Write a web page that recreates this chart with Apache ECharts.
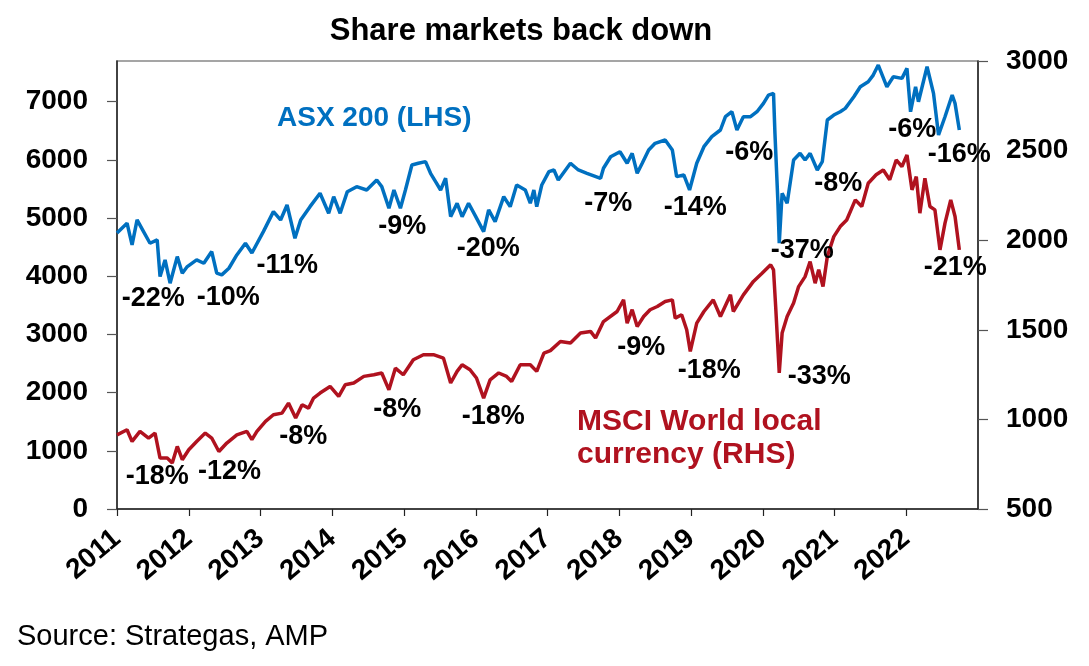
<!DOCTYPE html>
<html><head><meta charset="utf-8">
<script src="https://cdn.jsdelivr.net/npm/echarts@6/dist/echarts.min.js"></script>
<style>html,body{margin:0;padding:0;background:#fff}#c{width:1089px;height:666px}</style>
</head><body><div id="c"></div>
<script>
// ---- Data (decimal years, index levels) ----
const asxTime = [2011.00,2011.14,2011.21,2011.28,2011.37,2011.46,2011.56,2011.60,2011.67,2011.74,2011.84,2011.91,2011.98,
2012.11,2012.21,2012.32,2012.39,2012.46,2012.56,2012.67,2012.79,2012.88,
2013.04,2013.18,2013.28,2013.37,2013.48,2013.56,2013.69,2013.83,2013.95,
2014.02,2014.11,2014.21,2014.34,2014.48,2014.62,2014.69,2014.79,2014.86,2014.95,
2015.02,2015.11,2015.20,2015.30,2015.37,2015.44,2015.51,2015.58,2015.65,2015.74,2015.81,2015.90,
2016.00,2016.11,2016.18,2016.27,2016.39,2016.48,2016.57,2016.69,2016.76,2016.81,2016.85,2016.92,
2017.02,2017.09,2017.15,2017.32,2017.43,2017.55,2017.74,2017.78,2017.88,
2018.01,2018.11,2018.18,2018.25,2018.32,2018.41,2018.50,2018.64,2018.74,2018.80,2018.90,2018.98,
2019.08,2019.18,2019.29,2019.41,2019.48,2019.57,2019.64,2019.73,2019.83,2019.92,
2020.01,2020.08,2020.15,2020.17,2020.21,2020.23,2020.27,2020.34,2020.43,2020.52,2020.59,2020.66,2020.76,2020.83,2020.90,2020.99,
2021.08,2021.15,2021.27,2021.36,2021.47,2021.54,2021.61,2021.73,2021.82,2021.94,
2022.01,2022.06,2022.13,2022.17,2022.29,2022.38,2022.45,2022.54,2022.64,2022.68,2022.74];
const asxValues = [4745,4912,4539,4968,4768,4568,4625,3995,4281,3881,4338,4053,4167,
4281,4224,4424,4053,4024,4138,4367,4568,4400,
4768,5111,4968,5226,4654,4968,5197,5426,5083,
5368,5083,5454,5540,5483,5655,5540,5169,5483,5169,
5483,5913,5942,5970,5770,5626,5483,5684,5025,5255,5025,5255,
5025,4768,5140,4940,5368,5197,5569,5483,5255,5483,5197,5569,
5798,5827,5655,5942,5827,5770,5684,5856,6055,
6141,5942,6113,5770,5942,6170,6285,6342,6170,5712,5741,5483,
5942,6227,6399,6514,6742,6828,6514,6742,6742,6828,
6972,7115,7144,6457,5312,4568,5427,5255,5999,6113,5999,6113,5827,5970,6686,6771,
6828,6886,7086,7257,7343,7458,7630,7257,7429,7401,
7573,6828,7257,7000,7601,7144,6428,6742,7115,6972,6514];

const msciTime = [2011.00,2011.14,2011.21,2011.32,2011.44,2011.53,2011.60,2011.70,2011.77,2011.84,2011.91,
2012.00,2012.11,2012.23,2012.32,2012.42,2012.53,2012.67,2012.81,2012.88,2012.95,
2013.07,2013.18,2013.30,2013.39,2013.49,2013.58,2013.67,2013.74,2013.83,2013.97,
2014.09,2014.18,2014.30,2014.44,2014.58,2014.69,2014.79,2014.88,2014.99,
2015.13,2015.27,2015.41,2015.55,2015.65,2015.74,2015.81,2015.92,
2016.01,2016.11,2016.20,2016.32,2016.43,2016.50,2016.62,2016.76,2016.85,2016.95,
2017.04,2017.18,2017.32,2017.46,2017.60,2017.67,2017.78,2017.97,
2018.06,2018.11,2018.18,2018.25,2018.34,2018.43,2018.53,2018.64,2018.74,2018.78,2018.87,2018.94,2018.99,
2019.08,2019.18,2019.31,2019.41,2019.55,2019.59,2019.73,2019.87,2019.99,
2020.11,2020.15,2020.18,2020.23,2020.27,2020.34,2020.43,2020.50,2020.59,2020.66,2020.73,2020.78,2020.84,2020.90,2020.99,
2021.08,2021.17,2021.29,2021.38,2021.47,2021.58,2021.68,2021.77,2021.86,2021.94,
2022.01,2022.08,2022.14,2022.19,2022.26,2022.33,2022.40,2022.47,2022.54,2022.62,2022.68,2022.74];
const msciValues = [914,942,877,933,896,924,784,784,757,849,775,
831,877,924,896,821,868,914,933,887,933,
989,1026,1035,1091,1008,1082,1063,1119,1147,1184,
1128,1193,1203,1240,1249,1259,1165,1286,1249,
1333,1361,1361,1342,1203,1268,1305,1277,
1231,1119,1221,1259,1240,1212,1305,1305,1268,1370,
1384,1435,1426,1482,1491,1454,1546,1602,
1667,1537,1612,1518,1574,1612,1630,1658,1667,1565,1584,1500,1379,
1537,1602,1667,1574,1695,1602,1695,1770,1816,
1863,1835,1630,1259,1482,1574,1649,1741,1797,1881,1760,1835,1741,1909,2020,
2076,2113,2225,2188,2318,2365,2392,2337,2448,2411,
2476,2281,2355,2151,2346,2188,2169,1946,2095,2225,2132,1946];

// Drawdown annotations: [decimal year, level on the series' own axis, text]
const asxNotes = [[2011.506,3612,'-22%'],[2012.551,3629,'-10%'],[2013.373,4178,'-11%'],[2014.976,4848,'-9%'],
[2016.175,4470,'-20%'],[2017.847,5243,'-7%'],[2019.060,5174,'-14%'],[2019.813,6119,'-6%'],[2020.551,4436,'-37%'],
[2021.053,5586,'-8%'],[2022.084,6514,'-6%'],[2022.739,6085,'-16%']];
const msciNotes = [[2011.562,680,'-18%'],[2012.568,708,'-12%'],[2013.597,903,'-8%'],[2014.907,1054,'-8%'],
[2016.245,1015,'-18%'],[2018.307,1400,'-9%'],[2019.255,1271,'-18%'],[2020.788,1238,'-33%'],[2022.684,1846,'-21%']];

const leftTicks = {min:0, max:7700, interval:1000};
const rightTicks = {min:500, max:3000, interval:500};
const yearTicks = {min:2011, max:2023, interval:1};

// ---- Chart ----
const FONT = "'Liberation Sans', Arial, Helvetica, sans-serif";
const BLUE = '#0070c0', RED = '#b0121f';
const pairs = (t, v) => t.map((x, i) => [x, v[i]]);
const notes = arr => ({
  symbol: 'circle', symbolSize: 1, silent: true,
  itemStyle: {color: 'rgba(0,0,0,0)'},
  label: {show: true, position: 'inside', formatter: '{b}', color: '#000',
          fontSize: 27, fontWeight: 'bold', fontFamily: FONT},
  data: arr.map(n => ({coord: [n[0], n[1]], name: n[2]}))
});
const axisText = {fontSize: 28, fontWeight: 'bold', color: '#000', fontFamily: FONT};
const chart = echarts.init(document.getElementById('c'), null, {renderer: 'canvas'});
chart.setOption({
  animation: false,
  backgroundColor: '#fff',
  title: {text: 'Share markets back down', left: 516, top: 11, textAlign: 'center',
          textStyle: {fontSize: 31, fontWeight: 'bold', color: '#000', fontFamily: FONT}},
  grid: {left: 117, right: 111, top: 61, bottom: 157, show: true, borderColor: '#888', borderWidth: 1.5, backgroundColor: 'transparent'},
  xAxis: {type: 'value', min: yearTicks.min, max: yearTicks.max, interval: yearTicks.interval,
    axisLine: {show: true, lineStyle: {color: '#222', width: 1.5}},
    axisTick: {show: true, length: 7, lineStyle: {color: '#222', width: 1.2}},
    splitLine: {show: false},
    axisLabel: Object.assign({rotate: 40, margin: 26, showMaxLabel: false, formatter: v => String(Math.round(v))}, axisText)},
  yAxis: [
    {type: 'value', position: 'left', min: leftTicks.min, max: leftTicks.max, interval: leftTicks.interval,
     axisLine: {show: true, lineStyle: {color: '#222', width: 1.5}},
     axisTick: {show: true, length: 10, lineStyle: {color: '#555', width: 1.2}},
     splitLine: {show: false},
     axisLabel: Object.assign({margin: 29, showMaxLabel: false, formatter: v => String(Math.round(v))}, axisText)},
    {type: 'value', position: 'right', min: rightTicks.min, max: rightTicks.max, interval: rightTicks.interval,
     axisLine: {show: true, lineStyle: {color: '#222', width: 1.5}},
     axisTick: {show: true, length: 10, lineStyle: {color: '#555', width: 1.2}},
     splitLine: {show: false},
     axisLabel: Object.assign({margin: 28, formatter: v => String(Math.round(v))}, axisText)}
  ],
  series: [
    {name: 'ASX 200 (LHS)', type: 'line', yAxisIndex: 0, showSymbol: false, symbol: 'none',
     lineStyle: {color: BLUE, width: 3.5}, itemStyle: {color: BLUE},
     data: pairs(asxTime, asxValues), markPoint: notes(asxNotes), z: 3},
    {name: 'MSCI World local currency (RHS)', type: 'line', yAxisIndex: 1, showSymbol: false, symbol: 'none',
     lineStyle: {color: RED, width: 3.5}, itemStyle: {color: RED},
     data: pairs(msciTime, msciValues), markPoint: notes(msciNotes), z: 2}
  ],
  graphic: [
    {type: 'text', x: 277, y: 118, silent: true,
     style: {text: 'ASX 200 (LHS)', fill: BLUE, fontSize: 28, fontWeight: 'bold', fontFamily: FONT, align: 'left', verticalAlign: 'middle'}},
    {type: 'text', x: 577, y: 405, silent: true,
     style: {text: 'MSCI World local\ncurrency (RHS)', fill: RED, fontSize: 30, fontWeight: 'bold', fontFamily: FONT, lineHeight: 33, align: 'left', verticalAlign: 'top'}},
    {type: 'text', x: 17, y: 637, silent: true,
     style: {text: 'Source: Strategas, AMP', fill: '#000', fontSize: 29, fontFamily: FONT, align: 'left', verticalAlign: 'middle'}}
  ]
});
</script>
</body></html>
